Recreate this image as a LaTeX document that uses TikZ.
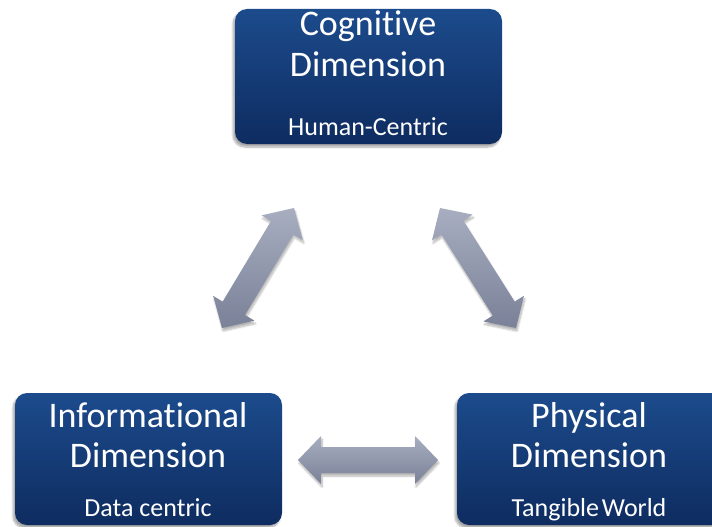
\documentclass[tikz,border=0pt]{standalone}
\usepackage{fontspec}
\setmainfont[Ligatures=NoCommon]{Carlito}
\usetikzlibrary{calc,shadows.blur}
\definecolor{boxtop}{RGB}{28,75,140}
\definecolor{boxbot}{RGB}{14,44,96}
\definecolor{arrtop}{RGB}{168,174,192}
\definecolor{arrbot}{RGB}{122,129,152}
\tikzset{
  dimbox/.style={rounded corners=12pt, minimum width=267pt, inner sep=0pt,
    top color=boxtop, bottom color=boxbot,
    blur shadow={shadow xshift=-2pt, shadow yshift=-3pt, shadow blur steps=8, shadow opacity=35}},
  ttl/.style={text=white, font=\fontsize{36}{36}\selectfont, inner sep=0pt, anchor=base},
  subttl/.style={text=white, font=\fontsize{26}{26}\selectfont, inner sep=0pt, anchor=base},
  fatarrow/.style={top color=arrtop, bottom color=arrbot,
    blur shadow={shadow xshift=1pt, shadow yshift=-3pt, shadow blur steps=8, shadow opacity=30}}
}
\newcommand\fatarrowpath[2]{%
  \coordinate (#1h) at ($(#1)!23pt!(#2)$);
  \coordinate (#2h) at ($(#2)!23pt!(#1)$);
  \path[fatarrow] (#1) -- ($(#1h)!24pt!90:(#2)$) -- ($(#1h)!13pt!90:(#2)$)
    -- ($(#2h)!13pt!-90:(#1)$) -- ($(#2h)!24pt!-90:(#1)$) -- (#2)
    -- ($(#2h)!24pt!90:(#1)$) -- ($(#2h)!13pt!90:(#1)$)
    -- ($(#1h)!13pt!-90:(#2)$) -- ($(#1h)!24pt!-90:(#2)$) -- cycle;}
\begin{document}
\begin{tikzpicture}[x=1pt,y=-1pt]
\useasboundingbox (0,0) rectangle (712,527);
\clip (0,0) rectangle (712,527);
% boxes
\node[dimbox, minimum height=135pt] (cog) at (368.5,76.5) {};
\node[dimbox, minimum height=132pt] (inf) at (148.5,459) {};
\node[dimbox, minimum height=132pt] (phy) at (590.5,459) {};
% texts
\node[ttl] (cog1) at (368,36) {Cognitive};
\node[ttl] (cog2) at (368,77) {Dimension};
\node[subttl] (cog3) at (368,135) {Human-Centric};
\node[ttl] (inf1) at (148,427) {Informational};
\node[ttl] (inf2) at (148,467) {Dimension};
\node[subttl] (inf3) at (148,516) {Data centric};
\node[ttl] (phy1) at (589,427) {Physical};
\node[ttl] (phy2) at (589,467) {Dimension};
\node[subttl] (phy3) at (589,516) {Tangible\kern-3pt\ World};
% arrows
\coordinate (la) at (222,328);
\coordinate (lb) at (294,208);
\coordinate (ra) at (440,208);
\coordinate (rb) at (516,328);
\coordinate (ha) at (298,460);
\coordinate (hb) at (438,460);
\fatarrowpath{la}{lb}
\fatarrowpath{ra}{rb}
\fatarrowpath{ha}{hb}
\end{tikzpicture}
\end{document}
